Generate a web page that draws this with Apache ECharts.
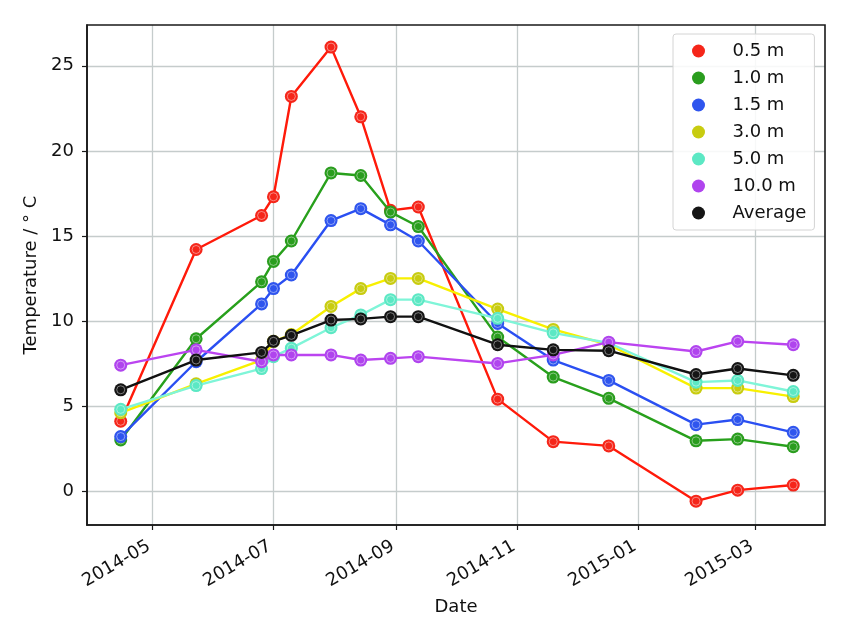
<!DOCTYPE html>
<html>
<head>
<meta charset="utf-8">
<script src="https://cdn.jsdelivr.net/npm/echarts@6/dist/echarts.min.js"></script>
<style>
	html, body { margin: 0; padding: 0; background: #fff; }
	#chart { width: 850px; height: 638px; }
</style>
</head>
<body>
<div id="chart"></div>
<script>
// sampling dates
const dates = [
	'2014-04-15', '2014-05-23', '2014-06-25', '2014-07-01', '2014-07-10',
	'2014-07-30', '2014-08-14', '2014-08-29', '2014-09-12', '2014-10-22',
	'2014-11-19', '2014-12-17', '2015-01-30', '2015-02-20', '2015-03-20'
];
// temperatures per depth
const temp05 = [4.1, 14.2, 16.2, 17.3, 23.2, 26.1, 22.0, 16.5, 16.7, 5.4, 2.9, 2.65, -0.6, 0.05, 0.35];
const temp10 = [3.0, 8.95, 12.3, 13.5, 14.7, 18.7, 18.55, 16.4, 15.55, 9.05, 6.7, 5.45, 2.95, 3.05, 2.6];
const temp15 = [3.2, 7.6, 11.0, 11.9, 12.7, 15.9, 16.6, 15.65, 14.7, 9.85, 7.7, 6.5, 3.9, 4.2, 3.45];
const temp30 = [4.6, 6.3, 7.7, 8.8, 9.2, 10.85, 11.9, 12.5, 12.5, 10.7, 9.5, 8.6, 6.05, 6.05, 5.55];
const temp50 = [4.8, 6.2, 7.2, 7.9, 8.4, 9.6, 10.35, 11.25, 11.25, 10.15, 9.3, 8.7, 6.4, 6.5, 5.85];
const temp100 = [7.4, 8.3, 7.6, 8.0, 8.0, 8.0, 7.7, 7.8, 7.9, 7.5, 8.0, 8.75, 8.2, 8.8, 8.6];
const tempAvg = [5.95, 7.7, 8.15, 8.8, 9.15, 10.05, 10.12, 10.25, 10.25, 8.6, 8.3, 8.25, 6.85, 7.2, 6.8];

const seriesNames = ['0.5 m', '1.0 m', '1.5 m', '3.0 m', '5.0 m', '10.0 m', 'Average'];
const seriesData = [temp05, temp10, temp15, temp30, temp50, temp100, tempAvg];
const lineColors = ['#ff1a0a', '#28a01c', '#2a4ff2', '#f8f000', '#7ff5d8', '#bb44f0', '#111111'];
const dotColors = ['#f5261a', '#2a9d1e', '#2f55ee', '#c8cc10', '#5ce8c4', '#b044ee', '#151515'];

const xTicks = ['2014-05-01', '2014-07-01', '2014-09-01', '2014-11-01', '2015-01-01', '2015-03-01'];
const yTicks = [0, 5, 10, 15, 20, 25];

const font = 'DejaVu Sans';
const fs = 18;
var chart = echarts.init(document.getElementById('chart'));

function toTs(s) {
	return new Date(s + 'T00:00:00Z').getTime();
}

let series = [];
for (let i = 0; i < seriesNames.length; i++) {
	let pts = [];
	for (let j = 0; j < dates.length; j++) {
		pts.push([toTs(dates[j]), seriesData[i][j]]);
	}
	series.push({
		name: seriesNames[i],
		type: 'line',
		data: pts,
		symbol: 'circle',
		symbolSize: 13,
		showAllSymbol: true,
		z: 2 + i,
		lineStyle: { color: lineColors[i], width: 2.4 },
		itemStyle: { color: dotColors[i] },
		emphasis: { disabled: true }
	});
	// thin pale ring inside each marker
	series.push({
		name: 'ring' + i,
		type: 'scatter',
		data: pts,
		symbol: 'circle',
		symbolSize: 8,
		silent: true,
		z: 2 + i,
		itemStyle: {
			color: 'rgba(0,0,0,0)',
			borderColor: 'rgba(255,255,255,0.55)',
			borderWidth: 1
		}
	});
}

var option = {
	animation: false,
	textStyle: { fontFamily: font },
	grid: {
		left: 87,
		right: 25,
		top: 25,
		bottom: 113,
		show: true,
		borderColor: '#1a1a1a',
		borderWidth: 1.6,
		z: 10
	},
	legend: {
		orient: 'vertical',
		left: 673,
		top: 34,
		data: seriesNames.map((n) => ({ name: n, icon: 'circle' })),
		itemWidth: 30,
		itemHeight: 13,
		itemGap: 9,
		padding: [8, 8, 8, 19],
		backgroundColor: 'rgba(255,255,255,0.85)',
		borderColor: '#d4d4d4',
		borderWidth: 1,
		borderRadius: 3,
		textStyle: {
			fontFamily: font,
			fontSize: fs,
			lineHeight: 17,
			color: '#111',
			padding: [0, 0, 0, 14]
		}
	},
	xAxis: {
		type: 'value',
		min: toTs('2014-03-29'),
		max: toTs('2015-04-05'),
		name: 'Date',
		nameLocation: 'middle',
		nameGap: 73,
		nameTextStyle: { fontFamily: font, fontSize: fs, color: '#111' },
		axisLine: { show: true, onZero: false, lineStyle: { color: '#1a1a1a', width: 1.6 } },
		axisTick: {
			show: true,
			length: 5,
			lineStyle: { color: '#1a1a1a', width: 1.2 },
			customValues: xTicks.map(toTs)
		},
		axisLabel: {
			customValues: xTicks.map(toTs),
			rotate: 30,
			fontFamily: font,
			fontSize: fs,
			color: '#111',
			margin: 18,
			padding: [0, 4, 0, 0],
			formatter: function (v) {
				let d = new Date(v);
				let m = d.getUTCMonth() + 1;
				return d.getUTCFullYear() + '-' + (m < 10 ? '0' + m : m);
			}
		},
		splitLine: { show: true, lineStyle: { color: '#c5cccc', width: 1.3 } }
	},
	yAxis: {
		type: 'value',
		min: -2,
		max: 27.4,
		name: 'Temperature / ° C',
		nameLocation: 'middle',
		nameGap: 46,
		nameTextStyle: { fontFamily: font, fontSize: fs, color: '#111' },
		axisLine: { show: true, onZero: false, lineStyle: { color: '#1a1a1a', width: 1.6 } },
		axisTick: {
			show: true,
			length: 5,
			lineStyle: { color: '#1a1a1a', width: 1.2 },
			customValues: yTicks
		},
		axisLabel: {
			customValues: yTicks,
			fontFamily: font,
			fontSize: fs,
			color: '#111',
			margin: 13
		},
		splitLine: { show: true, lineStyle: { color: '#c5cccc', width: 1.3 } }
	},
	series: series
};

chart.setOption(option);
</script>
</body>
</html>
